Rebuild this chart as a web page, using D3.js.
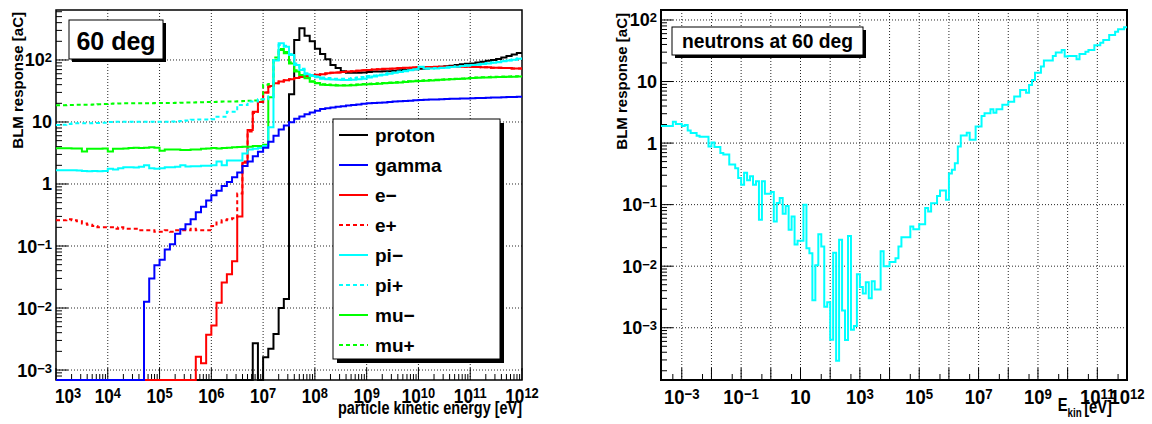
<!DOCTYPE html>
<html><head><meta charset="utf-8">
<script src="https://cdn.jsdelivr.net/npm/d3@7"></script>
<style>
body{margin:0;background:#fff}
svg{display:block}
text{font-family:"Liberation Sans",Arial,Helvetica,sans-serif;font-weight:bold;fill:#000}
</style>
</head><body>
<svg id="c" width="1152" height="424"></svg>
<script>
// ---------------- DATA ----------------
// left panel: 90 bins, 10 per decade, 1e3 .. 1e12 eV
const leftBinLowExp = 3, leftBinsPerDecade = 10, leftNBins = 90;
const protonVals = [0,0,0,0,0,0,0,0,0,0, 0,0,0,0,0,0,0,0,0,0, 0,0,0,0,0,0,0,0,0,0, 0,0,0,0,0,0,0,0,
  0.0027,0,0.0016,0.0022,0.0038,0.010,0.014,28,210,325,245,200,152,125,103,83,74,66,
  62,62,62,63,64,65,65,66,66,67,68,69,70,71,72,73,75,76,78,79,81,83,85,87,88,91,94,97,100,104,110,116,122,130];
const gammaVals = [0,0,0,0,0,0,0,0,0,0, 0,0,0,0,0,0,0,
  0.0126,0.030,0.049,0.060,0.088,0.107,0.157,0.187,0.225,0.27,
  0.35,0.43,0.54,0.66,0.78,0.93,1.08,1.29,1.53,1.95,
  2.3,2.8,3.3,3.85,4.8,6.0,7.6,8.8,9.9,11.3,
  12.3,13.3,14.2,15.2,16.2,16.7,17.2,17.6,18.0,18.4,
  18.8,19.2,19.6,20.0,20.2,20.5,20.7,21.0,21.3,21.6,
  21.9,22.1,22.4,22.7,22.8,23.0,23.1,23.3,23.4,23.6,
  23.7,23.9,24.0,24.1,24.3,24.4,24.6,24.8,24.9,25.1,
  25.3,25.4,25.6];
const eMinusVals = [0,0,0,0,0,0,0,0,0,0, 0,0,0,0,0,0,0,0,0,0, 0,0,0,0,0,0,0,
  0.00164,0.00129,0.0037,0.0052,0.0122,0.0257,0.035,0.057,0.30,2.2,
  7.4,14.6,21,30,38,42,45,47,49,51,
  53,55,56,58,59,61,62,63,64,65,
  66,67,68,69,70,71,72,72,73,74,
  75,75,76,76,77,77,78,78,78,78,
  78,78,78,77,77,76,76,75,75,74,
  74,73,73];
const ePlusVals = [0.26,0.26,0.27,0.26,0.25,0.23,0.22,0.21,0.20,0.20,
  0.20,0.19,0.20,0.19,0.19,0.19,0.18,0.18,0.18,0.17,
  0.17,0.18,0.17,0.18,0.18,0.18,0.19,0.18,0.18,0.18,
  0.21,0.24,0.26,0.27,0.28,0.70,2.3,7.0,14.0,21,
  30,37,42,45,47,49,51,53,54,56,
  57,59,60,62,63,64,65,66,67,68,
  69,70,71,71,72,73,74,74,75,76,
  76,77,77,77,78,78,78,78,78,78,
  77,77,76,76,75,75,74,74,73,73];
const piMinusVals = [1.66,1.66,1.66,1.66,1.65,1.62,1.60,1.62,1.60,1.62,
  1.76,1.72,1.80,1.86,1.86,1.84,1.90,2.00,1.80,1.76,
  1.80,1.86,1.86,1.90,2.00,1.92,1.94,1.94,1.96,1.96,
  2.00,2.30,2.00,2.40,2.40,2.40,3.10,3.60,3.70,3.80,
  4.10,8.2,98,186,164,120,83,69,59,55,
  52.6,50,49,48.5,48,47.6,47.6,48,49,50,
  52,54,56,58,60,62,64,66,68,71,
  78,73,73,73,74,75,77,78,80,81,
  83,84,86,88,90,92,95,98,101,105];
const piPlusVals = [8.9,9.0,9.3,9.5,9.5,9.5,9.5,9.6,9.6,9.7,
  10.0,10.1,10.1,10.1,10.1,10.1,10.1,10.1,10.1,10.1,
  10.1,10.1,10.2,10.3,10.4,10.6,10.9,11.0,11.0,11.0,
  11.1,12.2,12.2,14.6,14.6,18.8,18.8,21.3,21.3,23.3,
  23.3,26,100,175,170,125,88,72,61,57,
  54,52,51,50,50,50,50,51,52,53,
  55,56,58,60,62,63,65,67,69,71,
  77,73,73,74,75,76,77,79,80,82,
  83,85,87,89,91,93,96,99,102,106];
const muMinusVals = [3.77,3.77,3.77,3.75,3.75,3.35,3.70,3.70,3.70,3.75,
  3.35,3.70,3.70,3.75,3.80,3.85,3.80,3.85,3.90,3.85,
  3.45,3.60,3.60,3.60,3.55,3.55,3.60,3.60,3.70,3.75,
  3.80,3.75,3.80,3.85,3.90,3.95,4.00,4.00,4.10,4.10,
  4.30,25,100,145,128,88,65,57,50.6,44.7,
  42,40,39.5,39,38.6,38.6,38.8,39.2,39.7,40.2,
  40.6,41,41.5,42,42.5,43,43.5,44.2,44.8,45.4,
  46,46.4,46.8,47.3,47.8,48.3,48.8,49.3,49.8,50.4,
  51,51.5,52,52.4,52.7,53,53.3,53.6,53.8,54];
const muPlusVals = [18.7,18.7,18.8,18.8,18.9,19.0,19.0,19.2,19.3,19.5,
  19.6,19.8,19.9,20.0,20.0,20.0,20.0,20.1,20.1,20.2,
  20.2,20.3,20.3,20.4,20.5,20.6,20.7,20.8,20.9,21.0,
  21.1,21.2,21.3,21.3,21.4,21.5,21.7,22.0,22.3,23.0,
  40,41,110,150,135,92,68,58,51.5,45.5,
  42.7,40.7,40.2,39.7,39.3,39.3,39.5,39.9,40.4,40.9,
  41.3,41.7,42.2,42.7,43.2,43.7,44.2,44.9,45.5,46.1,
  46.7,47.1,47.5,48.0,48.5,49.0,49.5,50.0,50.5,51.1,
  51.7,52.2,52.7,53.1,53.4,53.7,54.0,54.3,54.5,54.7];
const legendNames = ["proton","gamma","e\u2212","e+","pi\u2212","pi+","mu\u2212","mu+"];

// right panel: 157 bins, 10 per decade, 10^-3.7 .. 1e12 eV
const rightBinLowExp = -3.7, rightBinsPerDecade = 10, rightNBins = 157;
const neutronVals = [1.9,1.9,1.9,1.9,2.23,2.05,2.05,1.9,1.97,1.6,
  1.46,1.46,1.31,1.27,1.27,1.27,0.88,1.02,0.86,0.86,
  0.69,0.65,0.65,0.45,0.45,0.39,0.27,0.21,0.33,0.25,
  0.29,0.21,0.24,0.057,0.24,0.15,0.15,0.16,0.053,0.106,
  0.128,0.071,0.095,0.039,0.064,0.0226,0.026,0.026,0.1,0.0196,
  0.0162,0.0028,0.0104,0.033,0.0208,0.0022,0.0026,0.00064,0.0166,0.00029,
  0.027,0.0019,0.00063,0.031,0.00093,0.00107,0.0074,0.0046,0.0036,0.0055,
  0.003,0.0057,0.0042,0.0042,0.0175,0.01,0.01,0.0117,0.0117,0.0135,
  0.0208,0.0294,0.0294,0.0294,0.044,0.04,0.04,0.048,0.048,0.088,
  0.077,0.105,0.105,0.138,0.17,0.17,0.12,0.32,0.37,0.47,
  0.88,1.33,1.33,1.47,1.13,1.13,1.86,1.86,2.75,3.05,
  3.05,3.55,3.1,3.55,3.55,4.2,4.2,4.7,4.7,5.7,
  5.7,7.3,7.3,6.6,8.8,10.6,13.9,13.9,17.5,21.9,
  21.9,21.9,26,29.5,29.5,32.6,25.4,26,26,26,
  23,28,28,30.6,32.6,32.6,39,39,42.8,47.4,
  47.4,57,57,64.6,70.6,70.6,76];

// tick label exponents
const leftXTickExp = [3,4,5,6,7,8,9,10,11,12];
const leftYTickExp = [-3,-2,-1,0,1,2];
const rightXLabelExp = [-3,-1,1,3,5,7,9,11,12];
const rightYTickExp = [-3,-2,-1,0,1,2];

const leftTitle = "60 deg", rightTitle = "neutrons at 60 deg";
const yAxisTitle = "BLM response [aC]";
const leftXTitle = "particle kinetic energy [eV]";

// ---------------- STYLES ----------------
const seriesStyle = [
  {name:"proton", vals:protonVals, color:"#000000", dash:null},
  {name:"gamma", vals:gammaVals, color:"#0000ff", dash:null},
  {name:"e\u2212", vals:eMinusVals, color:"#ff0000", dash:null},
  {name:"e+", vals:ePlusVals, color:"#ff0000", dash:"4,3"},
  {name:"pi\u2212", vals:piMinusVals, color:"#00ffff", dash:null},
  {name:"pi+", vals:piPlusVals, color:"#00ffff", dash:"4,3"},
  {name:"mu\u2212", vals:muMinusVals, color:"#00ff00", dash:null},
  {name:"mu+", vals:muPlusVals, color:"#00ff00", dash:"4,3"}
];
const drawOrder = ["proton","e\u2212","e+","mu\u2212","mu+","pi\u2212","pi+","gamma"];

const svg = d3.select("#c");
const L = {x0:56, x1:522, y0:10, y1:380};
const R = {x0:661, x1:1127, y0:10, y1:380};

const xL = d3.scaleLog().domain([1e3, 1e12]).range([L.x0, L.x1]);
const yL = d3.scaleLog().domain([Math.pow(10,-3.161), Math.pow(10,2.806)]).range([L.y1, L.y0]);
const xR = d3.scaleLog().domain([Math.pow(10,-3.7), 1e12]).range([R.x0, R.x1]);
const yR = d3.scaleLog().domain([Math.pow(10,-3.849), Math.pow(10,2.162)]).range([R.y1, R.y0]);

const leftEdges = d3.range(leftNBins+1).map(i => Math.pow(10, leftBinLowExp + i/leftBinsPerDecade));
const rightEdges = d3.range(rightNBins+1).map(i => Math.pow(10, rightBinLowExp + i/rightBinsPerDecade));

function stepPath(x, y, edges, vals){
  const ymin = y.domain()[0];
  const yy = v => y(Math.max(v, ymin));
  const p = d3.path();
  p.moveTo(x(edges[0]), yy(vals[0]));
  for (let i=0;i<vals.length;i++){
    if (i>0) p.lineTo(x(edges[i]), yy(vals[i]));
    p.lineTo(x(edges[i+1]), yy(vals[i]));
  }
  return p.toString();
}

function supLabel(sel, e, expSize, raise){
  if (e===0){ sel.text("1"); return; }
  if (e===1){ sel.text("10"); return; }
  sel.append("tspan").text("10");
  sel.append("tspan").attr("font-size", expSize).attr("dy", -raise)
     .text(e<0 ? "\u2212"+(-e) : String(e));
}

function decadesIn(scale){
  const d = scale.domain();
  const a = Math.ceil(Math.log10(d[0])-1e-9), b = Math.floor(Math.log10(d[1])+1e-9);
  return d3.range(a, b+1);
}

function drawFrame(P, x, y, opt){
  const g = svg.append("g");
  decadesIn(x).forEach(e => {
    const px = x(Math.pow(10,e));
    if (px <= P.x0+0.5 || px >= P.x1-0.5) return;
    g.append("line").attr("x1",px).attr("x2",px).attr("y1",P.y0).attr("y2",P.y1)
      .attr("stroke","#000").attr("stroke-width",1).attr("stroke-dasharray","1,2").attr("opacity",0.85);
  });
  decadesIn(y).forEach(e => {
    const py = y(Math.pow(10,e));
    g.append("line").attr("x1",P.x0).attr("x2",P.x1).attr("y1",py).attr("y2",py)
      .attr("stroke","#000").attr("stroke-width",1).attr("stroke-dasharray","1,2").attr("opacity",0.85);
  });
  const yd = y.domain();
  for (let e=Math.floor(Math.log10(yd[0])); e<=Math.ceil(Math.log10(yd[1])); e++){
    for (let m=1;m<=9;m++){
      const v = m*Math.pow(10,e);
      if (v < yd[0] || v > yd[1]) continue;
      const py = y(v);
      g.append("line").attr("x1",P.x0).attr("x2",P.x0+(m===1?opt.yMaj:opt.yMin)).attr("y1",py).attr("y2",py)
        .attr("stroke","#000").attr("stroke-width",1);
    }
  }
  const xd = x.domain();
  for (let e=Math.floor(Math.log10(xd[0])); e<=Math.ceil(Math.log10(xd[1])); e++){
    opt.xMinorMult.concat([1]).forEach(m => {
      const v = m*Math.pow(10,e);
      if (v < xd[0]*0.999 || v > xd[1]*1.001) return;
      const px = x(v);
      g.append("line").attr("x1",px).attr("x2",px).attr("y1",P.y1).attr("y2",P.y1-(m===1?opt.xMaj:opt.xMin))
        .attr("stroke","#000").attr("stroke-width",1);
    });
  }
  g.append("rect").attr("x",P.x0).attr("y",P.y0).attr("width",P.x1-P.x0).attr("height",P.y1-P.y0)
    .attr("fill","none").attr("stroke","#000").attr("stroke-width",opt.frameW);
  return g;
}

function clipFor(id, P){
  svg.append("clipPath").attr("id",id).append("rect")
    .attr("x",P.x0).attr("y",P.y0-1).attr("width",P.x1-P.x0).attr("height",P.y1-P.y0+2.5);
}

// ---------- LEFT PANEL ----------
drawFrame(L, xL, yL, {yMaj:12, yMin:6, xMaj:12, xMin:6, xMinorMult:[2,3,4,5,6,7,8,9], frameW:1.5});
clipFor("clipL", L);
const gl = svg.append("g").attr("clip-path","url(#clipL)");
drawOrder.forEach(n => {
  const s = seriesStyle.find(d => d.name===n);
  gl.append("path").attr("d", stepPath(xL, yL, leftEdges, s.vals))
    .attr("fill","none").attr("stroke", s.color).attr("stroke-width",2)
    .attr("stroke-dasharray", s.dash);
});

leftXTickExp.forEach((e,i) => {
  const px = xL(Math.pow(10,e));
  const g = svg.append("g").attr("transform", `translate(${i===0 ? L.x0-1 : px},403) scale(0.86,1)`);
  const t = g.append("text").attr("font-size",20).attr("text-anchor", i===0 ? "start" : "middle");
  supLabel(t, e, 15, 5);
});
leftYTickExp.forEach(e => {
  const py = yL(Math.pow(10,e));
  const t = svg.append("text").attr("x",52).attr("y",py+6.5).attr("font-size",18).attr("text-anchor","end");
  supLabel(t, e, 13, 4);
});
svg.append("text").attr("transform","translate(23,12) rotate(-90)").attr("text-anchor","end")
  .attr("font-size",15).text(yAxisTitle);
svg.append("text").attr("x",338).attr("y",414).attr("font-size",18)
  .attr("textLength",184).attr("lengthAdjust","spacingAndGlyphs").text(leftXTitle);

svg.append("rect").attr("x",72).attr("y",23).attr("width",94).attr("height",39).attr("fill","#000");
svg.append("rect").attr("x",69).attr("y",20).attr("width",94).attr("height",39).attr("fill","#fff").attr("stroke","#000").attr("stroke-width",1);
svg.append("text").attr("x",116).attr("y",50).attr("font-size",25).attr("text-anchor","middle").text(leftTitle);

const lg = {x:333, y:119, w:167, h:240};
svg.append("rect").attr("x",lg.x+4).attr("y",lg.y+4).attr("width",lg.w).attr("height",lg.h).attr("fill","#000");
svg.append("rect").attr("x",lg.x).attr("y",lg.y).attr("width",lg.w).attr("height",lg.h).attr("fill","#fff").attr("stroke","#000").attr("stroke-width",1);
legendNames.forEach((n,k) => {
  const s = seriesStyle.find(d => d.name===n);
  const cy = 135 + 30*k;
  svg.append("line").attr("x1",339).attr("x2",368).attr("y1",cy).attr("y2",cy)
    .attr("stroke",s.color).attr("stroke-width",2).attr("stroke-dasharray",s.dash);
  svg.append("text").attr("x",375).attr("y",cy+7).attr("font-size",19).text(n);
});

// ---------- RIGHT PANEL ----------
drawFrame(R, xR, yR, {yMaj:12, yMin:6, xMaj:12, xMin:6, xMinorMult:[5], frameW:2});
clipFor("clipR", R);
svg.append("g").attr("clip-path","url(#clipR)").append("path")
  .attr("d", stepPath(xR, yR, rightEdges, neutronVals))
  .attr("fill","none").attr("stroke","#00ffff").attr("stroke-width",2);

rightXLabelExp.forEach(e => {
  const px = xR(Math.pow(10,e));
  const g = svg.append("g").attr("transform", `translate(${px},404) scale(0.88,1)`);
  const t = g.append("text").attr("font-size",21).attr("text-anchor","middle");
  supLabel(t, e, 15, 5);
});
rightYTickExp.forEach(e => {
  const py = yR(Math.pow(10,e));
  const t = svg.append("text").attr("x",657).attr("y",py+6.5).attr("font-size",18).attr("text-anchor","end");
  supLabel(t, e, 13, 4);
});
svg.append("text").attr("transform","translate(627,13) rotate(-90)").attr("text-anchor","end")
  .attr("font-size",15).text(yAxisTitle);
{
  const g = svg.append("g").attr("transform","translate(1112,411) scale(0.82,1)");
  const t = g.append("text").attr("text-anchor","end").attr("font-size",18);
  t.append("tspan").text("E");
  t.append("tspan").attr("font-size",12).attr("dy",6).text("kin");
  t.append("tspan").attr("dy",-4).attr("dx",3).text("[eV]");
}
svg.append("rect").attr("x",675).attr("y",30).attr("width",191).attr("height",28).attr("fill","#000");
svg.append("rect").attr("x",672).attr("y",27).attr("width",191).attr("height",28).attr("fill","#fff").attr("stroke","#000").attr("stroke-width",1);
svg.append("text").attr("x",767.5).attr("y",48).attr("font-size",20).attr("text-anchor","middle")
  .attr("textLength",171).attr("lengthAdjust","spacingAndGlyphs").text(rightTitle);
</script>
</body></html>
